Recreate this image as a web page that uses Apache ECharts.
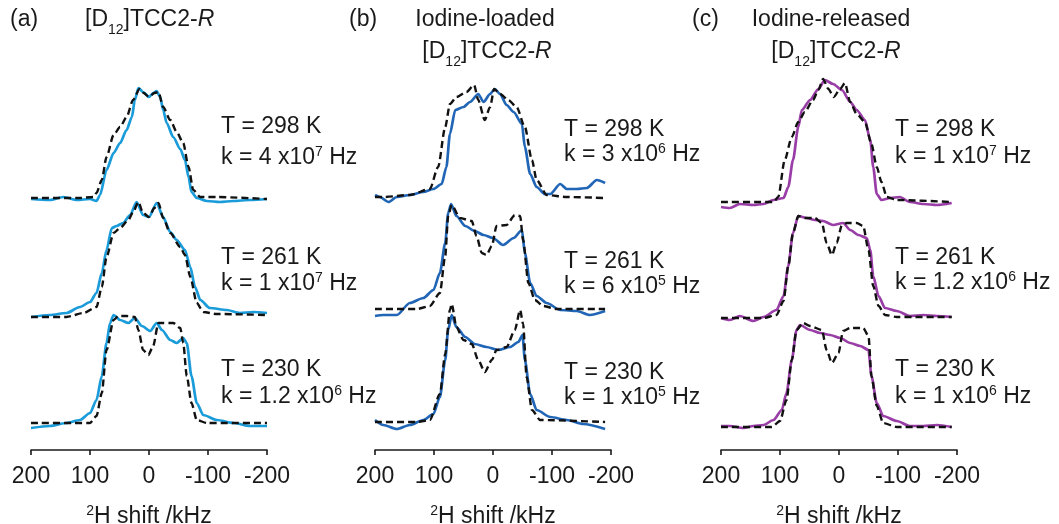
<!DOCTYPE html>
<html>
<head>
<meta charset="utf-8">
<script src="https://cdn.jsdelivr.net/npm/echarts@6/dist/echarts.min.js"></script>
<style>
  html, body { margin: 0; padding: 0; background: #ffffff; }
  #chart { width: 1059px; height: 524px; }
</style>
</head>
<body>
<div id="chart"></div>
<script>
// 2H solid-state NMR spectra: experimental (solid) and simulated (dashed)
// Each point: [2H shift / kHz, intensity / a.u.]

const xTicks = [200, 100, 0, -100, -200];
const temperatures = ['298', '261', '230'];

// (a) [D12]TCC2-R
const a298Exp = [[200,-1],[168,-2],[145,1],[122,-2],[100,-1],[89,-3],[83,3],[72,28],[60,45],[49,55],[38,68],[29,81],[24,98],[18,110],[10,106],[0,101],[-7,105],[-13,107],[-19,101],[-24,88],[-30,75],[-41,61],[-53,49],[-61,38],[-67,21],[-72,6],[-81,0],[-98,-3],[-120,-4],[-143,-3],[-171,-2],[-200,-1]];
const a298Sim = [[200,0],[120,0],[94,1],[89,5],[80,18],[72,41],[60,63],[49,71],[38,81],[27,98],[16,109],[9,105],[0,101],[-9,105],[-16,106],[-24,91],[-36,78],[-47,66],[-58,55],[-67,31],[-75,8],[-87,1],[-115,1],[-200,-1]];
const a261Exp = [[200,-2],[168,0],[140,2],[117,8],[100,13],[89,22],[80,42],[72,65],[63,87],[55,89],[44,92],[32,100],[21,113],[10,100],[0,98],[-13,112],[-24,98],[-36,83],[-47,75],[-61,65],[-70,48],[-78,28],[-87,15],[-103,7],[-132,5],[-154,2],[-176,3],[-200,2]];
const a261Sim = [[200,-2],[140,-2],[111,2],[89,8],[80,28],[72,58],[60,82],[49,87],[35,95],[27,103],[18,113],[10,102],[0,98],[-9,107],[-16,112],[-24,97],[-36,82],[-53,68],[-61,60],[-70,38],[-81,12],[-92,3],[-115,1],[-200,0]];
const a230Exp = [[200,-5],[168,-3],[140,0],[117,3],[100,10],[89,23],[80,47],[72,80],[66,100],[60,108],[49,103],[35,100],[24,105],[12,97],[-2,92],[-13,100],[-22,93],[-36,83],[-47,80],[-58,85],[-64,80],[-72,47],[-81,20],[-92,8],[-115,3],[-143,0],[-171,-3],[-200,-3]];
const a230Sim = [[200,0],[100,0],[89,7],[80,30],[72,73],[60,103],[52,107],[38,107],[24,106],[18,93],[10,73],[1,68],[-7,77],[-16,100],[-24,100],[-41,100],[-53,95],[-58,80],[-64,47],[-72,20],[-81,3],[-98,0],[-200,0]];

// (b) Iodine-loaded [D12]TCC2-R
const b298Exp = [[200,2],[192,0],[177,-5],[163,0],[141,2],[118,5],[101,8],[87,13],[79,30],[73,63],[64,87],[50,90],[39,95],[25,103],[16,95],[5,103],[-3,108],[-12,103],[-23,92],[-35,85],[-49,73],[-54,50],[-63,23],[-74,10],[-88,3],[-97,3],[-114,13],[-125,8],[-142,8],[-159,9],[-176,17],[-190,14]];
const b298Sim = [[200,0],[186,0],[141,2],[107,8],[93,30],[81,70],[73,93],[62,100],[45,105],[32,112],[25,97],[14,77],[5,90],[-2,108],[-12,103],[-26,97],[-40,90],[-54,70],[-66,37],[-74,17],[-91,2],[-125,0],[-190,-1]];
const b261Exp = [[200,-7],[186,-6],[163,-6],[141,6],[118,11],[101,19],[90,36],[81,66],[76,96],[71,105],[62,93],[47,83],[31,78],[16,74],[0,71],[-17,64],[-35,71],[-49,79],[-54,56],[-63,26],[-74,13],[-91,6],[-114,-1],[-142,-2],[-164,-6],[-190,-2]];
const b261Sim = [[200,0],[129,0],[107,3],[90,16],[81,53],[76,93],[70,104],[56,91],[36,88],[28,73],[19,56],[11,54],[2,63],[-6,83],[-23,84],[-37,94],[-46,93],[-51,69],[-60,26],[-71,9],[-85,3],[-108,0],[-190,0]];
const b230Exp = [[200,2],[186,-3],[163,-7],[141,-3],[118,2],[101,8],[90,25],[81,62],[76,92],[70,107],[62,95],[47,85],[31,78],[11,75],[-9,72],[-29,75],[-43,80],[-50,87],[-54,62],[-63,28],[-74,12],[-97,5],[-125,2],[-153,-2],[-190,-7]];
const b230Sim = [[200,0],[129,0],[107,2],[90,28],[81,68],[73,112],[70,118],[62,95],[50,82],[36,78],[25,62],[14,50],[2,62],[-6,72],[-23,75],[-37,92],[-46,112],[-51,98],[-57,45],[-66,12],[-80,2],[-190,0]];

// (c) Iodine-released [D12]TCC2-R
const c298Exp = [[200,-5],[185,-6],[168,-2],[145,-3],[128,-2],[111,2],[94,4],[86,15],[78,42],[69,75],[63,92],[49,102],[35,113],[24,122],[10,118],[-5,112],[-19,100],[-30,92],[-44,82],[-53,62],[-58,35],[-64,8],[-72,2],[-87,4],[-103,5],[-120,0],[-143,-2],[-166,-3],[-191,-1]];
const c298Sim = [[200,0],[111,0],[103,5],[92,42],[80,65],[69,80],[58,90],[44,102],[35,112],[27,123],[18,113],[9,105],[-2,113],[-10,119],[-19,100],[-30,88],[-44,80],[-55,58],[-64,35],[-72,20],[-81,5],[-98,2],[-191,0]];
const c261Exp = [[200,-1],[185,-3],[168,1],[145,-4],[128,0],[106,7],[94,21],[86,51],[78,84],[69,101],[55,99],[41,97],[27,96],[10,92],[-7,94],[-19,87],[-33,82],[-47,79],[-53,67],[-58,41],[-67,21],[-78,9],[-98,6],[-120,1],[-143,2],[-166,1],[-191,0]];
const c261Sim = [[200,-1],[128,-1],[106,2],[94,16],[86,51],[78,84],[69,101],[58,99],[41,99],[29,94],[21,74],[12,62],[4,74],[-5,92],[-13,94],[-30,94],[-41,91],[-50,67],[-58,31],[-67,11],[-78,2],[-98,0],[-191,0]];
const c230Exp = [[200,1],[185,1],[162,-1],[145,1],[128,2],[111,7],[97,17],[89,34],[80,67],[72,97],[66,102],[49,97],[32,94],[15,92],[-2,89],[-19,84],[-36,81],[-50,77],[-55,51],[-64,24],[-75,11],[-98,6],[-120,1],[-143,1],[-166,2],[-191,0]];
const c230Sim = [[200,0],[114,0],[100,6],[89,27],[80,67],[72,97],[61,104],[49,101],[29,97],[21,77],[12,64],[1,74],[-7,96],[-19,99],[-41,99],[-50,91],[-55,51],[-64,21],[-75,4],[-98,0],[-191,0]];

// exchange rates per panel: [mantissa, exponent]
const ratesA = [['4', '7'], ['1', '7'], ['1.2', '6']];
const ratesB = [['3', '6'], ['6', '5'], ['1', '5']];
const ratesC = [['1', '7'], ['1.2', '6'], ['1', '6']];

// ---------------------------------------------------------------------------
const FONT = '"Liberation Sans", Arial, Helvetica, sans-serif';
const INK = '#1a1a1a';
const FS = 23;

const panels = [
  { left: 31,  color: '#1a9bda', traces: [[a298Exp, a298Sim], [a261Exp, a261Sim], [a230Exp, a230Sim]],
    offsets: [252, 135, 27], rates: ratesA, labelX: 221, labelY: [[127, 158], [258, 284], [370, 397]] },
  { left: 375, color: '#2166b6', traces: [[b298Exp, b298Sim], [b261Exp, b261Sim], [b230Exp, b230Sim]],
    offsets: [253, 141, 28], rates: ratesB, labelX: 564, labelY: [[130, 155], [262, 287], [373, 398]] },
  { left: 721, color: '#9a3ea7', traces: [[c298Exp, c298Sim], [c261Exp, c261Sim], [c230Exp, c230Sim]],
    offsets: [248, 133, 23], rates: ratesC, labelX: 895, labelY: [[130, 157], [258, 283], [370, 397]] }
];

const GRID_TOP = 40, GRID_H = 410, GRID_W = 236;

const richBase = {
  n:   { fontFamily: FONT, fontSize: FS, lineHeight: 26, fill: INK, color: INK },
  it:  { fontFamily: FONT, fontSize: FS, lineHeight: 26, fontStyle: 'italic', fill: INK, color: INK },
  sup: { fontFamily: FONT, fontSize: 14, lineHeight: 14, verticalAlign: 'top', fill: INK, color: INK },
  sub: { fontFamily: FONT, fontSize: 14, lineHeight: 8, verticalAlign: 'top', padding: [16, 0, 0, 0], fill: INK, color: INK }
};

function textEl(x, y, text, align) {
  return {
    type: 'text', x: x, y: y, silent: true,
    style: {
      text: text, rich: richBase, fill: INK,
      font: FS + 'px ' + FONT,
      align: align || 'left', verticalAlign: 'middle'
    }
  };
}

const grids = [], xAxes = [], yAxes = [], series = [], graphics = [];

panels.forEach((p, i) => {
  grids.push({ left: p.left, top: GRID_TOP, width: GRID_W, height: GRID_H,
               containLabel: false, outerBoundsMode: 'none' });
  xAxes.push({
    gridIndex: i, type: 'value', inverse: true, min: -200, max: 200, interval: 100,
    axisLine: { show: true, onZero: false, lineStyle: { color: INK, width: 1.6 } },
    axisTick: { show: true, length: 5, inside: false, lineStyle: { color: INK, width: 1.6 } },
    axisLabel: { color: INK, fontFamily: FONT, fontSize: FS, margin: 15,
                 formatter: v => String(xTicks[xTicks.indexOf(v)]) },
    splitLine: { show: false },
    name: '{sup|2}{n|H shift /kHz}',
    nameLocation: 'middle', nameGap: 54,
    nameTextStyle: { rich: richBase }
  });
  yAxes.push({ gridIndex: i, type: 'value', min: 0, max: GRID_H, show: false });

  p.traces.forEach((pair, t) => {
    const off = p.offsets[t];
    const lift = arr => arr.map(([x, h]) => [x, off + h]);
    series.push({
      type: 'line', xAxisIndex: i, yAxisIndex: i, data: lift(pair[0]),
      showSymbol: false, smooth: 0.25, smoothMonotone: 'x', silent: true, z: 2,
      lineStyle: { color: p.color, width: 2.7 }
    });
    series.push({
      type: 'line', xAxisIndex: i, yAxisIndex: i, data: lift(pair[1]),
      showSymbol: false, smooth: 0.25, smoothMonotone: 'x', silent: true, z: 3,
      lineStyle: { color: '#111111', width: 2.4, type: [7, 4] }
    });
    graphics.push(textEl(p.labelX, p.labelY[t][0], '{n|T = ' + temperatures[t] + ' K}'));
    graphics.push(textEl(p.labelX, p.labelY[t][1],
      '{n|k = ' + p.rates[t][0] + ' x10}{sup|' + p.rates[t][1] + '}{n| Hz}'));
  });
});

// panel headings
graphics.push(textEl(10, 20, '{n|(a)}'));
graphics.push(textEl(85, 20, '{n|[D}{sub|12}{n|]TCC2-}{it|R}'));
graphics.push(textEl(349, 20, '{n|(b)}'));
graphics.push(textEl(485, 20, '{n|Iodine-loaded}', 'center'));
graphics.push(textEl(487, 52, '{n|[D}{sub|12}{n|]TCC2-}{it|R}', 'center'));
graphics.push(textEl(692, 20, '{n|(c)}'));
graphics.push(textEl(831, 20, '{n|Iodine-released}', 'center'));
graphics.push(textEl(836, 52, '{n|[D}{sub|12}{n|]TCC2-}{it|R}', 'center'));

const chart = echarts.init(document.getElementById('chart'), null, { renderer: 'canvas' });
chart.setOption({
  animation: false,
  backgroundColor: '#ffffff',
  grid: grids,
  xAxis: xAxes,
  yAxis: yAxes,
  series: series,
  graphic: graphics
});
</script>
</body>
</html>
